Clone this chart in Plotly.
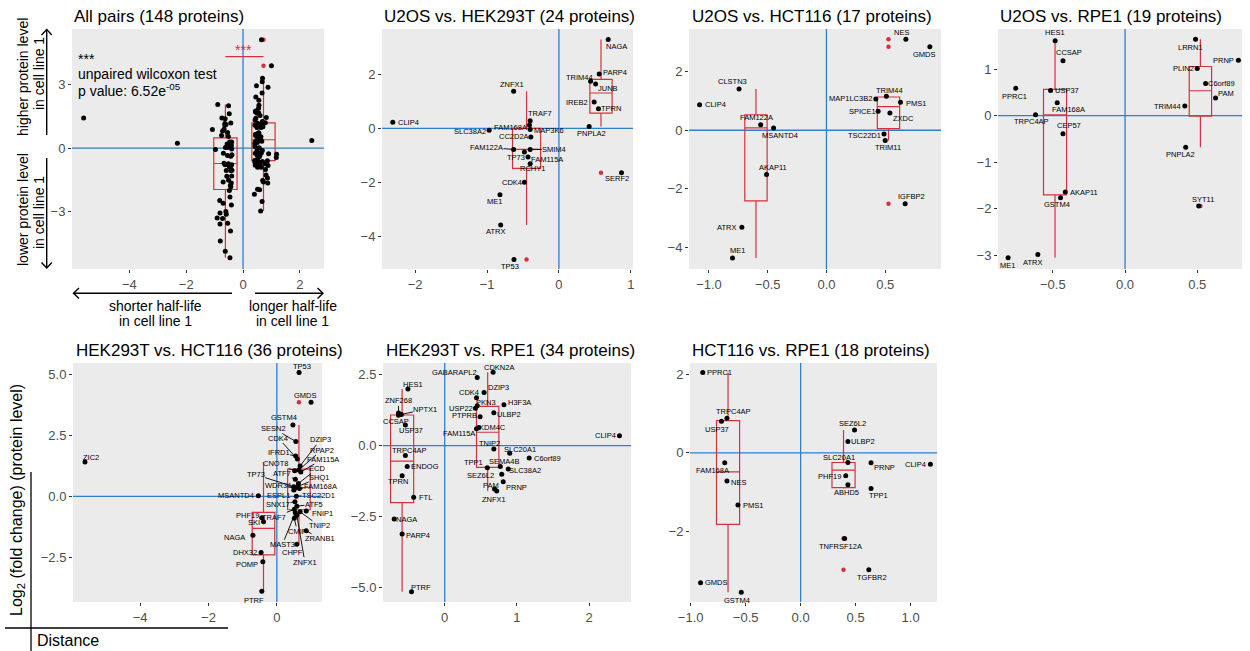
import numpy as np
import plotly.graph_objects as go

# ====================== DATA ======================
# Panel 2: U2OS vs. HEK293T
p2_names = ["NAGA", "PARP4", "TRIM44", "JUNB", "IREB2", "TPRN", "PNPLA2", "SERF2", "ZNFX1", "CLIP4",
            "SLC38A2", "TRAF7", "FAM168A", "MAP3K6", "CC2D2A", "FAM122A", "SMIM4", "TP73", "FAM115A",
            "RCHY1", "CDK4", "ME1", "ATRX", "TP53"]
p2_x = [0.685, 0.56, 0.44, 0.51, 0.49, 0.55, 0.42, 0.87, -0.63, -2.31, -0.97, -0.40, -0.41, -0.40, -0.39,
        -0.63, -0.40, -0.48, -0.43, -0.40, -0.48, -0.82, -0.81, -0.625]
p2_y = [3.28, 2.01, 1.74, 1.64, 0.97, 0.72, 0.07, -1.64, 1.37, 0.22, -0.07, 0.28, 0.12, -0.04, -0.32,
        -0.78, -0.78, -0.88, -1.06, -1.31, -1.99, -2.46, -3.57, -4.85]

# Panel 3: U2OS vs. HCT116
p3_names = ["NES", "GMDS", "IGFBP2", "TRIM44", "MAP1LC3B2", "PMS1", "SPICE1", "ZXDC", "TSC22D1", "TRIM11",
            "CLSTN3", "CLIP4", "FAM122A", "MSANTD4", "AKAP11", "ATRX", "ME1"]
p3_x = [0.676, 0.88, 0.67, 0.51, 0.42, 0.63, 0.44, 0.54, 0.49, 0.50, -0.744, -1.08, -0.56, -0.45, -0.51,
        -0.72, -0.80]
p3_y = [3.11, 2.85, -2.51, 1.16, 1.07, 0.96, 0.65, 0.59, -0.125, -0.35, 1.41, 0.87, 0.19, 0.08, -1.51,
        -3.31, -4.36]

# Panel 4: U2OS vs. RPE1
p4_names = ["HES1", "CCSAP", "PPRC1", "USP37", "FAM168A", "TRPC4AP", "CEP57", "AKAP11", "GSTM4", "ATRX",
            "ME1", "LRRN1", "PRNP", "PLIN2", "C6orf89", "PAM", "TRIM44", "PNPLA2", "SYT11"]
p4_x = [-0.484, -0.43, -0.757, -0.516, -0.47, -0.62, -0.43, -0.414, -0.447, -0.604, -0.81, 0.488, 0.785,
        0.50, 0.558, 0.627, 0.414, 0.42, 0.51]
p4_y = [1.61, 1.18, 0.59, 0.54, 0.28, 0.02, -0.39, -1.64, -1.76, -2.98, -3.05, 1.64, 1.19, 1.01, 0.69,
        0.38, 0.21, -0.68, -1.94]

# Panel 5: HEK293T vs. HCT116
p5_names = ["TP53", "GMDS", "ZIC2", "GSTM4", "SESN2", "CDK4", "DZIP3", "IFRD1", "RPAP2", "CNOT8",
            "FAM115A", "ATF7", "ECD", "TP73", "SHQ1", "WDR34", "FAM168A", "MSANTD4", "ESPL1", "TSC22D1",
            "SNX17", "ATF5", "FNIP1", "TRAF7", "PHF19", "SKI", "TNIP2", "ZRANB1", "NAGA", "CMIP", "MAST3",
            "CHPF", "DHX32", "ZNFX1", "POMP", "PTRF"]
p5_x = [0.65, 1.0, -5.61, 0.47, 0.556, 0.60, 0.68, 0.55, 0.64, 0.52, 0.70, 0.54, 0.63, 0.49, 0.60, 0.52,
        0.66, -0.54, 0.50, 0.57, 0.53, 0.585, 0.86, 0.51, -0.44, -0.39, 0.68, 0.86, -0.70, 0.51, 0.54,
        0.585, -0.46, 0.585, -0.41, -0.44]
p5_y = [5.08, 3.86, 1.41, 2.93, 2.25, 1.53, 1.25, 1.66, 1.08, 1.05, 1.00, 0.70, 0.53, 0.40, 0.40, 0.33,
        0.32, 0.03, 0.26, 0.01, -0.22, -0.40, -0.60, -0.53, -0.88, -1.04, -0.63, -1.41, -1.59, -0.90,
        -0.67, -1.96, -2.30, -0.77, -2.68, -3.89]

# Panel 6: HEK293T vs. RPE1
p6_names = ["CDKN2A", "GABARAPL2", "HES1", "DZIP3", "CDK4", "H3F3A", "PKN3", "USP22", "ZNF268", "NPTX1",
            "ULBP2", "CCSAP", "PTPRB", "USP37", "KDM4C", "FAM115A", "CLIP4", "TNIP2", "SLC20A1", "C6orf89",
            "TRPC4AP", "ENDOG", "TPP1", "SEMA4B", "SLC38A2", "SEZ6L2", "TPRN", "PAM", "PRNP", "ZNFX1",
            "FTL", "NAGA", "PARP4", "PTRF"]
p6_x = [0.67, 0.45, -0.51, 0.545, 0.44, 0.82, 0.45, 0.425, -0.64, -0.60, 0.68, -0.64, 0.49, -0.545, 0.47,
        0.44, 2.42, 0.68, 0.90, 1.17, -0.545, -0.52, 0.59, 0.77, 0.88, 0.79, -0.59, 0.69, 0.81, 0.72,
        -0.43, -0.70, -0.59, -0.46]
p6_y = [2.58, 2.40, 1.99, 1.87, 1.69, 1.44, 1.40, 1.32, 1.15, 1.10, 1.16, 1.07, 1.02, 0.73, 0.64, 0.59,
        0.35, -0.12, -0.27, -0.44, -0.35, -0.74, -0.78, -0.74, -0.82, -1.01, -1.06, -1.53, -1.27, -1.60,
        -1.82, -2.59, -3.11, -5.15]

# Panel 7: HCT116 vs. RPE1
p7_names = ["PPRC1", "TRPC4AP", "USP37", "FAM168A", "NES", "PMS1", "GMDS", "GSTM4", "SEZ6L2", "ULBP2",
            "SLC20A1", "PRNP", "CLIP4", "PHF19", "ABHD5", "TPP1", "TNFRSF12A", "TGFBR2"]
p7_x = [-0.89, -0.67, -0.72, -0.69, -0.67, -0.57, -0.91, -0.54, 0.49, 0.43, 0.43, 0.64, 1.18, 0.41, 0.43,
        0.64, 0.40, 0.62]
p7_y = [2.04, 0.88, 0.80, -0.25, -0.71, -1.32, -3.29, -3.53, 0.58, 0.29, -0.24, -0.25, -0.29, -0.58,
        -0.81, -0.90, -2.17, -2.96]

# Panel 1: all pairs = union of the six comparisons
p1_x = p2_x + p3_x + p4_x + p5_x + p6_x + p7_x
p1_y = p2_y + p3_y + p4_y + p5_y + p6_y + p7_y

titles = ["All pairs (148 proteins)", "U2OS vs. HEK293T (24 proteins)", "U2OS vs. HCT116 (17 proteins)",
          "U2OS vs. RPE1 (19 proteins)", "HEK293T vs. HCT116 (36 proteins)", "HEK293T vs. RPE1 (34 proteins)",
          "HCT116 vs. RPE1 (18 proteins)"]

# ====================== LAYOUT / STYLE ======================
W, H = 1250, 651
RED = "#d6303e"
BLUE = "#2f80cc"
FONT = "Liberation Sans, Arial, sans-serif"
TICKC = "#4d4d4d"


def X(px):
    return px / W


def Y(py):
    return 1 - py / H


# label offsets in pixels (dx right, dy down, leader line)
off2 = {"NAGA": (8, 7), "PARP4": (16, -1), "TRIM44": (-11, -4), "JUNB": (12, 5), "IREB2": (-17, 0),
        "TPRN": (13, 0), "PNPLA2": (2, 7), "SERF2": (-4, 6), "ZNFX1": (-2, -7), "CLIP4": (16, 0),
        "SLC38A2": (-19, 1), "TRAF7": (10, -7), "FAM168A": (-19, 2), "MAP3K6": (19, 1), "CC2D2A": (-17, 0),
        "FAM122A": (-27, -2, 1), "SMIM4": (24, 0, 1), "TP73": (-8, 5), "FAM115A": (19, 3), "RCHY1": (2, 5),
        "CDK4": (-12, 0), "ME1": (-5, 7), "ATRX": (-5, 7), "TP53": (-4, 7)}
off3 = {"NES": (-4, -7), "GMDS": (-5, 8), "IGFBP2": (6, -7), "TRIM44": (3, -6), "MAP1LC3B2": (-25, 0),
        "PMS1": (16, 1), "SPICE1": (-16, 0), "ZXDC": (14, 5), "TSC22D1": (-20, 2), "TRIM11": (3, 7),
        "CLSTN3": (-7, -8), "CLIP4": (16, 0), "FAM122A": (-4, -7), "MSANTD4": (6, 8), "AKAP11": (6, -7),
        "ATRX": (-15, 0), "ME1": (5, -7)}
off4 = {"HES1": (0, -8), "CCSAP": (6, -8), "PPRC1": (-1, 8), "USP37": (16, 0), "FAM168A": (11, 7),
        "TRPC4AP": (-4, 7), "CEP57": (6, -8), "AKAP11": (19, 0), "GSTM4": (-4, 7), "ATRX": (-5, 8),
        "ME1": (-1, 8), "LRRN1": (-5, 8), "PRNP": (-15, 0), "PLIN2": (-14, 0), "C6orf89": (16, 0),
        "PAM": (10, -4), "TRIM44": (-17, 1), "PNPLA2": (-5, 7), "SYT11": (4, -7)}
off5 = {"TP53": (3, -6), "GMDS": (-6, -7), "ZIC2": (6, -5), "GSTM4": (-9, -7), "SESN2": (-22, -13, 1),
        "CDK4": (-19, -21, 1), "DZIP3": (20, -26, 1), "IFRD1": (-17, -3, 1), "RPAP2": (23, -20, 1),
        "CNOT8": (-19, -7, 1), "FAM115A": (22, -13, 1), "ATF7": (-13, -6, 1), "ECD": (19, -15, 1),
        "TP73": (-38, -12, 1), "SHQ1": (22, -9, 1), "WDR34": (-17, -3, 1), "FAM168A": (21, -2, 1),
        "MSANTD4": (-22, 0), "ESPL1": (-15, 5, 1), "TSC22D1": (22, -1, 1), "SNX17": (-17, 3, 1),
        "ATF5": (17, -2, 1), "FNIP1": (16, 2), "TRAF7": (-20, 8, 1), "PHF19": (-14, -2), "SKI": (-10, 1),
        "TNIP2": (19, 14, 1), "ZRANB1": (14, 8, 1), "NAGA": (-18, 2), "CMIP": (3, 13, 1),
        "MAST3": (-13, 32, 1), "CHPF": (-4, 8), "DHX32": (-16, 0), "ZNFX1": (8, 47, 1), "POMP": (-16, 3),
        "PTRF": (-8, 9)}
off6 = {"CDKN2A": (6, -5), "GABARAPL2": (-23, -5), "HES1": (5, -5), "DZIP3": (14, -5), "CDK4": (-8, -5),
        "H3F3A": (16, -2), "PKN3": (9, -3), "USP22": (-14, 0), "ZNF268": (0, -12, 1), "NPTX1": (24, -5, 1),
        "ULBP2": (15, 2), "CCSAP": (-3, 6), "PTPRB": (-16, -1), "USP37": (6, 6), "KDM4C": (14, 0),
        "FAM115A": (-18, 5), "CLIP4": (-14, 0), "TNIP2": (-4, -6), "SLC20A1": (10, -4), "C6orf89": (18, 0),
        "TRPC4AP": (4, -5), "ENDOG": (18, 0), "TPP1": (-14, -5), "SEMA4B": (4, -5), "SLC38A2": (17, 2),
        "SEZ6L2": (-21, 1), "TPRN": (-4, 6), "PAM": (-4, -4), "PRNP": (13, 6), "ZNFX1": (-3, 8),
        "FTL": (12, 0), "NAGA": (12, 0), "PARP4": (16, 2), "PTRF": (9, -4)}
off7 = {"PPRC1": (17, 0), "TRPC4AP": (7, -7), "USP37": (-4, 8), "FAM168A": (-12, 8), "NES": (12, 2),
        "PMS1": (15, 1), "GMDS": (16, 0), "GSTM4": (-4, 8), "SEZ6L2": (-2, -7), "ULBP2": (15, 0),
        "SLC20A1": (-9, -5), "PRNP": (13, 5), "CLIP4": (-15, 0), "PHF19": (-16, 1), "ABHD5": (-1, 8),
        "TPP1": (7, 7), "TNFRSF12A": (-4, 8), "TGFBR2": (3, 8)}

panels = [
    dict(names=None, x=p1_x, y=p1_y, off=None, dom=(72, 324, 29, 269), xr=(-6.02, 2.85), yr=(-5.68, 5.59),
         xt=[-4, -2, 0, 2], yt=[-3, 0, 3], xf="", yf="", box_x=[-0.62, 0.72], box_w=[0.82, 0.82], tx=72),
    dict(names=p2_names, x=p2_x, y=p2_y, off=off2, dom=(382, 633, 29, 269), xr=(-2.46, 1.03), yr=(-5.2, 3.67),
         xt=[-2, -1, 0, 1], yt=[-4, -2, 0, 2], xf="", yf="", box_x=[-0.45, 0.585], box_w=[0.39, 0.31], tx=382),
    dict(names=p3_names, x=p3_x, y=p3_y, off=off3, dom=(689, 941, 29, 269), xr=(-1.17, 0.975), yr=(-4.74, 3.46),
         xt=[-1, -0.5, 0, 0.5], yt=[-4, -2, 0, 2], xf=".1f", yf="", box_x=[-0.60, 0.528], box_w=[0.19, 0.19], tx=690),
    dict(names=p4_names, x=p4_x, y=p4_y, off=off4, dom=(998, 1242, 29, 269), xr=(-0.88, 0.81), yr=(-3.29, 1.86),
         xt=[-0.5, 0, 0.5], yt=[-3, -2, -1, 0, 1], xf=".1f", yf="", box_x=[-0.485, 0.522], box_w=[0.16, 0.155], tx=998),
    dict(names=p5_names, x=p5_x, y=p5_y, off=off5, dom=(73, 322, 363, 602), xr=(-5.96, 1.32), yr=(-4.33, 5.47),
         xt=[-4, -2, 0], yt=[-2.5, 0, 2.5, 5], xf="", yf=".1f", box_x=[-0.39, 0.645], box_w=[0.66, 0.66], tx=74),
    dict(names=p6_names, x=p6_x, y=p6_y, off=off6, dom=(383, 631, 363, 602), xr=(-0.855, 2.58), yr=(-5.51, 2.91),
         xt=[0, 1, 2], yt=[-5, -2.5, 0, 2.5], xf="", yf=".1f", box_x=[-0.59, 0.595], box_w=[0.32, 0.31], tx=384),
    dict(names=p7_names, x=p7_x, y=p7_y, off=off7, dom=(690, 937, 363, 602), xr=(-1.006, 1.24), yr=(-3.78, 2.28),
         xt=[-1, -0.5, 0, 0.5, 1], yt=[-2, 0, 2], xf=".1f", yf="", box_x=[-0.66, 0.39], box_w=[0.21, 0.21], tx=690),
]


def box_stats(vals):
    v = np.sort(np.asarray(vals, dtype=float))
    q1, med, q3 = np.percentile(v, [25, 50, 75])
    iqr = q3 - q1
    lo, hi = q1 - 1.5 * iqr, q3 + 1.5 * iqr
    inside = v[(v >= lo) & (v <= hi)]
    out = v[(v < lo) | (v > hi)]
    return q1, med, q3, inside.min(), inside.max(), out


fig = go.Figure()
annotations = []
shapes = []
layout_axes = {}
label_font = dict(family=FONT, size=7.5, color="black")

for i, P in enumerate(panels, start=1):
    sx = "" if i == 1 else str(i)
    xa, ya = "x" + sx, "y" + sx
    x0, x1, y0, y1 = P["dom"]
    xaxis = dict(domain=[X(x0), X(x1)], anchor=ya, range=list(P["xr"]), tickvals=P["xt"],
                 showgrid=False, zeroline=False, ticks="outside", automargin=False,
                 ticklen=3, tickcolor="#333333", tickfont=dict(family=FONT, size=13, color=TICKC),
                 showline=False, fixedrange=True)
    yaxis = dict(domain=[Y(y1), Y(y0)], anchor=xa, range=list(P["yr"]), tickvals=P["yt"],
                 showgrid=False, zeroline=False, ticks="outside", automargin=False,
                 ticklen=3, tickcolor="#333333", tickfont=dict(family=FONT, size=13, color=TICKC),
                 showline=False, fixedrange=True)
    if P["xf"]:
        xaxis["tickformat"] = P["xf"]
    if P["yf"]:
        yaxis["tickformat"] = P["yf"]
    layout_axes["xaxis" + sx] = xaxis
    layout_axes["yaxis" + sx] = yaxis
    # reference lines at zero
    shapes.append(dict(type="line", xref=xa, yref=ya + " domain", x0=0, x1=0, y0=0, y1=1,
                       line=dict(color=BLUE, width=1.3), layer="below"))
    shapes.append(dict(type="line", xref=xa + " domain", yref=ya, x0=0, x1=1, y0=0, y1=0,
                       line=dict(color=BLUE, width=1.3), layer="below"))
    # boxplots per sign of distance
    for g, (c, w) in enumerate(zip(P["box_x"], P["box_w"])):
        sel = [yy for xx, yy in zip(P["x"], P["y"]) if (xx < 0) == (g == 0)]
        q1, med, q3, lf, uf, out = box_stats(sel)
        fig.add_trace(go.Box(x=[c], q1=[q1], median=[med], q3=[q3], lowerfence=[lf], upperfence=[uf],
                             width=w, xaxis=xa, yaxis=ya, line=dict(color=RED, width=1.2),
                             fillcolor="rgba(0,0,0,0)", whiskerwidth=0, boxpoints=False,
                             showlegend=False, hoverinfo="skip"))
        if len(out):
            fig.add_trace(go.Scatter(x=[c] * len(out), y=list(out), mode="markers", xaxis=xa, yaxis=ya,
                                     marker=dict(color=RED, size=4.5), showlegend=False, hoverinfo="skip"))
    fig.add_trace(go.Scatter(x=P["x"], y=P["y"], mode="markers", xaxis=xa, yaxis=ya,
                             marker=dict(color="black", size=5, line=dict(width=0)),
                             text=P["names"], showlegend=False))
    # title
    annotations.append(dict(xref="paper", yref="paper", x=X(P["tx"]), y=Y(17 if y0 < 100 else 350),
                            xanchor="left", yanchor="middle", text=titles[i - 1], showarrow=False,
                            font=dict(family=FONT, size=17, color="black")))
    # point labels
    if P["names"]:
        for n, xx, yy in zip(P["names"], P["x"], P["y"]):
            o = P["off"].get(n, (0, -8))
            dx, dy = o[0], o[1]
            lead = len(o) > 2
            if lead:
                annotations.append(dict(x=xx, y=yy, xref=xa, yref=ya, text=n, showarrow=True, arrowhead=0,
                                        arrowwidth=0.9, arrowcolor="black", ax=dx, ay=dy, standoff=2,
                                        font=label_font, borderpad=0))
            else:
                annotations.append(dict(x=xx, y=yy, xref=xa, yref=ya, text=n, showarrow=False,
                                        xshift=dx, yshift=-dy, xanchor="center", yanchor="middle",
                                        font=label_font, borderpad=0))

# ---- Panel 1 extra decorations ----
side_font = dict(family=FONT, size=14, color="black")
# significance bar
sig_y = 4.29
shapes.append(dict(type="line", xref="x", yref="y", x0=panels[0]["box_x"][0], x1=panels[0]["box_x"][1],
                   y0=sig_y, y1=sig_y, line=dict(color=RED, width=1.2)))
annotations.append(dict(xref="x", yref="y", x=0.0, y=4.62, text="***", showarrow=False,
                        font=dict(family=FONT, size=14, color=RED), xanchor="center", yanchor="middle"))
annotations.append(dict(xref="paper", yref="paper", x=X(76), y=Y(59), text="***", showarrow=False,
                        xanchor="left", yanchor="middle", font=side_font))
annotations.append(dict(xref="paper", yref="paper", x=X(76), y=Y(74), text="unpaired wilcoxon test",
                        showarrow=False, xanchor="left", yanchor="middle", font=side_font))
annotations.append(dict(xref="paper", yref="paper", x=X(76), y=Y(90), text="p value: 6.52e<sup>-05</sup>",
                        showarrow=False, xanchor="left", yanchor="middle", font=side_font))

# rotated y-side texts
for txt, cx, cy in [("higher protein level", 23, 77), ("in cell line 1", 39, 74),
                    ("lower protein level", 23, 210), ("in cell line 1", 39, 213)]:
    annotations.append(dict(xref="paper", yref="paper", x=X(cx), y=Y(cy), text=txt, textangle=-90,
                            showarrow=False, xanchor="center", yanchor="middle", font=side_font))
# x-side texts
for txt, cx, cy in [("shorter half-life", 155, 306), ("in cell line 1", 155, 321),
                    ("longer half-life", 293, 306), ("in cell line 1", 292, 321)]:
    annotations.append(dict(xref="paper", yref="paper", x=X(cx), y=Y(cy), text=txt,
                            showarrow=False, xanchor="center", yanchor="middle", font=side_font))


def pline(x0, y0, x1, y1, w=1.4):
    shapes.append(dict(type="line", xref="paper", yref="paper", x0=X(x0), y0=Y(y0), x1=X(x1), y1=Y(y1),
                       line=dict(color="black", width=w)))


def chevron(pts, w=1.4):
    path = "M " + " L ".join(f"{X(a):.5f},{Y(b):.5f}" for a, b in pts)
    shapes.append(dict(type="path", xref="paper", yref="paper", path=path, line=dict(color="black", width=w)))


# vertical arrows
pline(46.7, 29.5, 46.7, 135)
chevron([(41.5, 35), (46.7, 29.5), (51.9, 35)])
pline(46.7, 158, 46.7, 268)
chevron([(41.5, 262.5), (46.7, 268), (51.9, 262.5)])
# horizontal arrows
pline(73.5, 293.3, 232, 293.3)
chevron([(79, 288.1), (73.5, 293.3), (79, 298.5)])
pline(255, 293.3, 323, 293.3)
chevron([(317.5, 288.1), (323, 293.3), (317.5, 298.5)])

# ---- Panel 5 axis titles ----
annotations.append(dict(xref="paper", yref="paper", x=X(17), y=Y(500),
                        text="Log<sub>2</sub> (fold change) (protein level)", textangle=-90, showarrow=False,
                        xanchor="center", yanchor="middle", font=dict(family=FONT, size=16, color="black")))
annotations.append(dict(xref="paper", yref="paper", x=X(35), y=Y(640), text="Distance", showarrow=False,
                        xanchor="left", yanchor="middle", font=dict(family=FONT, size=16, color="black")))
pline(31, 472, 31, 651, 1.3)
pline(5, 628, 228, 628, 1.3)

fig.update_layout(width=W, height=H, margin=dict(l=0, r=0, t=0, b=0, pad=0, autoexpand=False),
                  paper_bgcolor="white",
                  plot_bgcolor="#ebebeb", showlegend=False, annotations=annotations, shapes=shapes,
                  font=dict(family=FONT), **layout_axes)

fig.write_html("out.html")
